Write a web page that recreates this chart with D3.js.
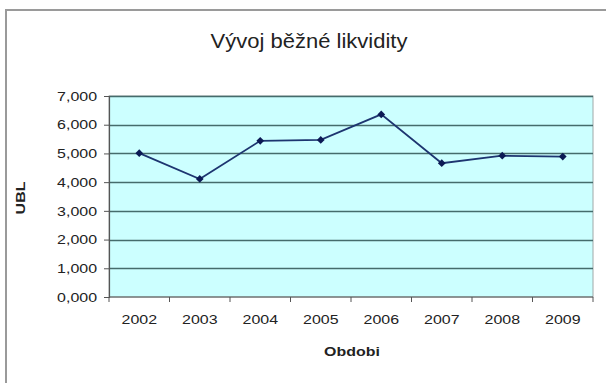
<!DOCTYPE html>
<html>
<head>
<meta charset="utf-8">
<script src="https://cdn.jsdelivr.net/npm/d3@7/dist/d3.min.js"></script>
<style>
  html, body { margin: 0; padding: 0; background: #fff; }
  svg { display: block; }
  text { font-family: "Liberation Sans", Arial, sans-serif; fill: #222; }
</style>
</head>
<body>
<svg id="chart" width="606" height="383"></svg>
<script>
// Běžná likvidita podle let
const years = ["2002", "2003", "2004", "2005", "2006", "2007", "2008", "2009"];
const ubl = [5.01, 4.11, 5.44, 5.47, 6.36, 4.66, 4.92, 4.89];
const yTicks = [0, 1, 2, 3, 4, 5, 6, 7];

const title = "Vývoj běžné likvidity";
const xTitle = "Obdobi";
const yTitle = "UBL";

const svg = d3.select("#chart");
const W = 606, H = 383;
const plot = { left: 109, top: 96, right: 593, bottom: 297 };
const stretch = 1.33; // horizontal text stretch

// outer chart frame
svg.append("rect").attr("x", 6).attr("y", 10).attr("width", W + 10).attr("height", H + 10)
  .attr("fill", "#fff").attr("stroke", "#9a9a9a").attr("stroke-width", 2);

const x = d3.scaleBand().domain(years).range([plot.left, plot.right]);
const y = d3.scaleLinear().domain([0, 7]).range([plot.bottom, plot.top]);

// plot area
svg.append("rect")
  .attr("x", plot.left).attr("y", plot.top)
  .attr("width", plot.right - plot.left).attr("height", plot.bottom - plot.top)
  .attr("fill", "#ccffff").attr("stroke", "#a0a8a8").attr("stroke-width", 1);

// gridlines
svg.append("g").selectAll("line").data(yTicks.filter(d => d > 0)).join("line")
  .attr("x1", plot.left).attr("x2", plot.right)
  .attr("y1", d => Math.round(y(d)) + 0.5).attr("y2", d => Math.round(y(d)) + 0.5)
  .attr("stroke", "#456c6c").attr("stroke-width", 1.6);

// y axis
const yAxis = svg.append("g").attr("transform", `translate(${plot.left},0)`)
  .call(d3.axisLeft(y).tickValues(yTicks).tickSize(5).tickFormat(d => d3.format(".3f")(d).replace(".", ",")));
yAxis.select(".domain").attr("stroke", "#555").attr("stroke-width", 1.2);
yAxis.selectAll(".tick line").attr("stroke", "#555");
yAxis.selectAll(".tick text")
  .attr("x", null).attr("dy", null)
  .attr("text-anchor", "end").attr("dominant-baseline", "central")
  .attr("font-size", 12).attr("fill", "#222")
  .attr("transform", `translate(-12,0) scale(${stretch},1)`);

// x axis with ticks on category boundaries
const xAxisG = svg.append("g").attr("transform", `translate(0,${plot.bottom})`);
xAxisG.append("line").attr("x1", plot.left).attr("x2", plot.right)
  .attr("y1", 0).attr("y2", 0).attr("stroke", "#555").attr("stroke-width", 1.2);
xAxisG.selectAll("line.tk").data(years.concat(["end"])).join("line").attr("class", "tk")
  .attr("x1", (d, i) => plot.left + i * x.step()).attr("x2", (d, i) => plot.left + i * x.step())
  .attr("y1", 0).attr("y2", 5).attr("stroke", "#555");
xAxisG.selectAll("text").data(years).join("text")
  .attr("transform", d => `translate(${x(d) + x.bandwidth() / 2},23) scale(${stretch},1)`)
  .attr("text-anchor", "middle").attr("dominant-baseline", "central")
  .attr("font-size", 12).text(d => d);

// series line
const line = d3.line().x((d, i) => x(years[i]) + x.bandwidth() / 2).y(d => y(d));
svg.append("path").datum(ubl).attr("d", line)
  .attr("fill", "none").attr("stroke", "#1d3570").attr("stroke-width", 1.8);

// diamond markers
svg.append("g").selectAll("path").data(ubl).join("path")
  .attr("transform", (d, i) => `translate(${x(years[i]) + x.bandwidth() / 2},${y(d)}) rotate(45)`)
  .attr("d", d3.symbol(d3.symbolSquare, 30))
  .attr("fill", "#0c1a55");

// titles
svg.append("text")
  .attr("transform", `translate(309,41) scale(1.1,1)`)
  .attr("text-anchor", "middle").attr("dominant-baseline", "central")
  .attr("font-size", 20).attr("fill", "#1a1a1a").text(title);

svg.append("text")
  .attr("transform", `translate(352,352) scale(${stretch},1)`)
  .attr("text-anchor", "middle").attr("dominant-baseline", "central")
  .attr("font-size", 12).attr("font-weight", "bold").text(xTitle);

svg.append("text")
  .attr("transform", `translate(21,198) rotate(-90) scale(${stretch},1)`)
  .attr("text-anchor", "middle").attr("dominant-baseline", "central")
  .attr("font-size", 12).attr("font-weight", "bold").text(yTitle);
</script>
</body>
</html>
